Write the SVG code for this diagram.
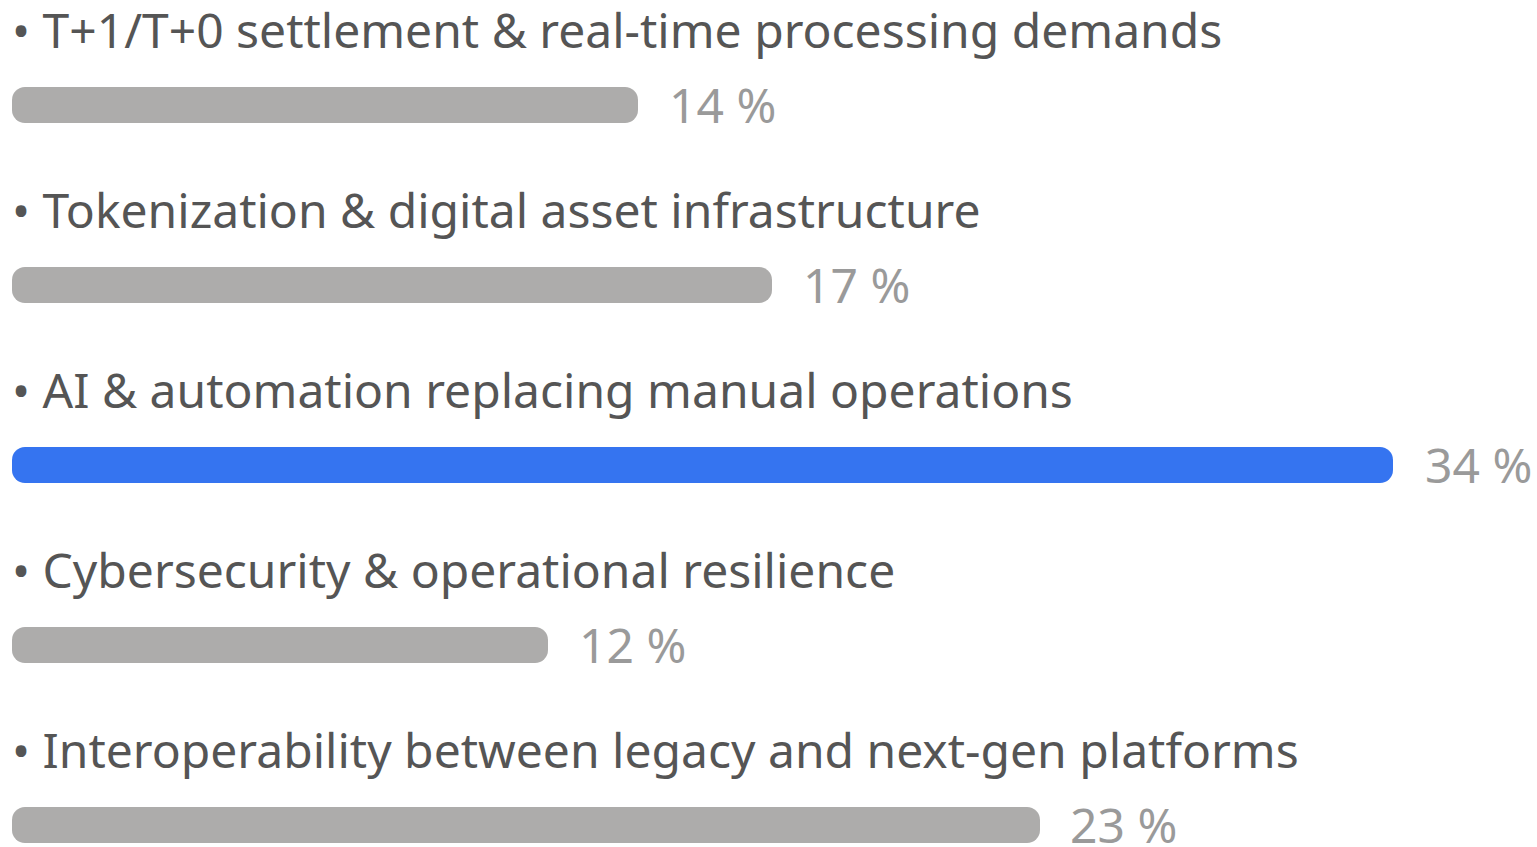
<svg xmlns="http://www.w3.org/2000/svg" width="1537" height="847" viewBox="0 0 1537 847">
<style>
.lbl{font-family:"Noto Sans","Open Sans",sans-serif;font-size:48px;fill:#555555}
.pct{font-family:"Noto Sans","Open Sans",sans-serif;font-size:48px;fill:#9a9a9a}
.bar{fill:#adacab}
.hi{fill:#3574f0}
</style>
<rect width="1537" height="847" fill="#ffffff"/>
<g id="row1">
<text class="lbl" x="12" y="47.5">• T+1/T+0 settlement &amp; real-time processing demands</text>
<rect class="bar" x="12" y="87" width="626" height="36" rx="13"/>
<text class="pct" x="669" y="123">14 %</text>
</g>
<g id="row2">
<text class="lbl" x="12" y="227.5">• Tokenization &amp; digital asset infrastructure</text>
<rect class="bar" x="12" y="267" width="760" height="36" rx="13"/>
<text class="pct" x="803" y="303">17 %</text>
</g>
<g id="row3">
<text class="lbl" x="12" y="407.5">• AI &amp; automation replacing manual operations</text>
<rect class="hi" x="12" y="447" width="1381" height="36" rx="13"/>
<text class="pct" x="1425" y="483">34 %</text>
</g>
<g id="row4">
<text class="lbl" x="12" y="587.5">• Cybersecurity &amp; operational resilience</text>
<rect class="bar" x="12" y="627" width="536" height="36" rx="13"/>
<text class="pct" x="579" y="663">12 %</text>
</g>
<g id="row5">
<text class="lbl" x="12" y="767.5">• Interoperability between legacy and next-gen platforms</text>
<rect class="bar" x="12" y="807" width="1028" height="36" rx="13"/>
<text class="pct" x="1070" y="843">23 %</text>
</g>
</svg>
